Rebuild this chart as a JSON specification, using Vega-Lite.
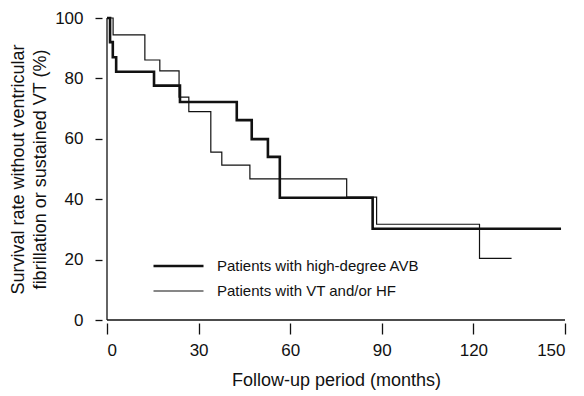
{
  "$schema": "https://vega.github.io/schema/vega-lite/v6.json",
  "width": 458,
  "height": 302,
  "autosize": {"type": "none"},
  "padding": {"left": 107, "top": 18, "right": 19, "bottom": 76},
  "background": "white",
  "config": {
    "font": "Liberation Sans",
    "view": {"stroke": null},
    "axis": {"grid": false, "domain": false, "tickColor": "#111", "labelColor": "#111", "titleColor": "#111", "titleFontWeight": "normal"}
  },
  "layer": [
    {
      "data": {"values": [{}]},
      "mark": {"type": "rule", "color": "#111", "strokeWidth": 1.3},
      "encoding": {"y": {"datum": 0, "type": "quantitative", "scale": {"domain": [0, 100], "nice": false}}}
    },
    {
      "data": {"values": [{}]},
      "mark": {"type": "rule", "color": "#111", "strokeWidth": 1.3},
      "encoding": {"x": {"datum": 0, "type": "quantitative", "scale": {"domain": [0, 150], "nice": false}}}
    },
    {
      "data": {"values": [
        {"series": "Patients with high-degree AVB", "month": 0, "surv": 100},
        {"series": "Patients with high-degree AVB", "month": 1, "surv": 92},
        {"series": "Patients with high-degree AVB", "month": 1.9, "surv": 87},
        {"series": "Patients with high-degree AVB", "month": 3, "surv": 82.2},
        {"series": "Patients with high-degree AVB", "month": 15.4, "surv": 77.6},
        {"series": "Patients with high-degree AVB", "month": 23.9, "surv": 72.2},
        {"series": "Patients with high-degree AVB", "month": 42.5, "surv": 66.2},
        {"series": "Patients with high-degree AVB", "month": 47.4, "surv": 59.9},
        {"series": "Patients with high-degree AVB", "month": 52.7, "surv": 54},
        {"series": "Patients with high-degree AVB", "month": 56.6, "surv": 40.5},
        {"series": "Patients with high-degree AVB", "month": 87, "surv": 30.2},
        {"series": "Patients with high-degree AVB", "month": 148.7, "surv": 30.2},
        {"series": "Patients with VT and/or HF", "month": 0, "surv": 100},
        {"series": "Patients with VT and/or HF", "month": 2, "surv": 94.4},
        {"series": "Patients with VT and/or HF", "month": 12.4, "surv": 86.1},
        {"series": "Patients with VT and/or HF", "month": 17.3, "surv": 82.5},
        {"series": "Patients with VT and/or HF", "month": 23.6, "surv": 73.8},
        {"series": "Patients with VT and/or HF", "month": 26.8, "surv": 69},
        {"series": "Patients with VT and/or HF", "month": 34, "surv": 55.6},
        {"series": "Patients with VT and/or HF", "month": 37.6, "surv": 51.3},
        {"series": "Patients with VT and/or HF", "month": 46.8, "surv": 46.7},
        {"series": "Patients with VT and/or HF", "month": 78.5, "surv": 40.7},
        {"series": "Patients with VT and/or HF", "month": 88.3, "surv": 31.7},
        {"series": "Patients with VT and/or HF", "month": 122, "surv": 20.4},
        {"series": "Patients with VT and/or HF", "month": 132.5, "surv": 20.4}
      ]},
      "mark": {"type": "line", "interpolate": "step-after", "color": "#111"},
      "encoding": {
        "x": {
          "field": "month", "type": "quantitative",
          "scale": {"domain": [0, 150], "nice": false},
          "axis": {"values": [0, 30, 60, 90, 120, 150], "offset": 3, "tickSize": 11, "tickWidth": 1.3, "labelPadding": 8, "labelFontSize": 17, "title": "Follow-up period (months)", "titleFontSize": 18, "titlePadding": 13}
        },
        "y": {
          "field": "surv", "type": "quantitative",
          "scale": {"domain": [0, 100], "nice": false},
          "axis": {"values": [0, 20, 40, 60, 80, 100], "offset": 5, "tickSize": 7, "tickWidth": 1.3, "labelPadding": 12, "labelFontSize": 17, "title": ["Survival rate without ventricular", "fibrillation or sustained VT (%)"], "titleFontSize": 18, "titleLineHeight": 22, "titlePadding": 5}
        },
        "strokeWidth": {
          "field": "series", "type": "nominal",
          "scale": {"domain": ["Patients with high-degree AVB", "Patients with VT and/or HF"], "range": [2.6, 1.2]},
          "legend": {"title": null, "orient": "none", "legendX": 45, "legendY": 240, "symbolType": "stroke", "symbolSize": 2500, "symbolStrokeColor": "#111", "clipHeight": 16, "rowPadding": 9, "labelFontSize": 15, "labelOffset": 12, "labelLimit": 0, "labelColor": "#111", "padding": 0}
        }
      }
    }
  ]
}
